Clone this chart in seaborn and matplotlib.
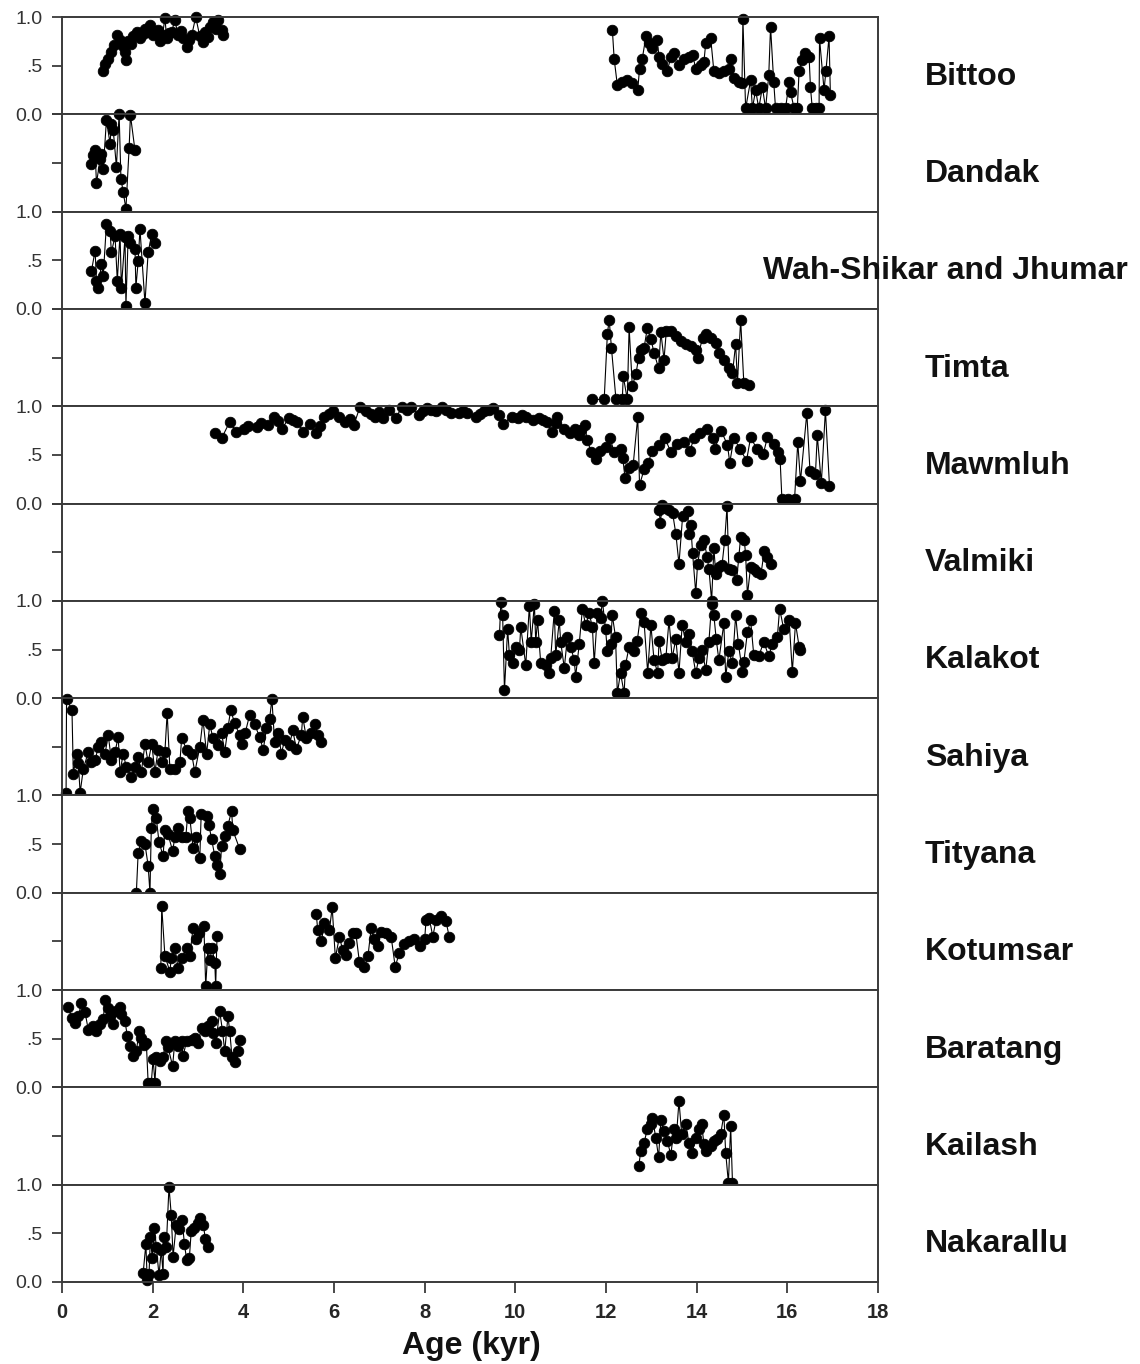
import matplotlib
matplotlib.use("Agg")
import matplotlib.pyplot as plt
import pandas as pd
import seaborn as sns

# (age in kyr, normalised proxy value) per cave record
bittoo = [(0.90, .44), (0.95, .52), (1.02, .57), (1.09, .64), (1.15, .71), (1.22, .82), (1.28, .76),
          (1.34, .70), (1.39, .64), (1.41, .56), (1.46, .75), (1.52, .72), (1.57, .80), (1.65, .85),
          (1.72, .78), (1.78, .83), (1.83, .88), (1.90, .85), (1.94, .92), (2.01, .81), (2.06, .84),
          (2.12, .87), (2.16, .75), (2.22, .82), (2.27, .99), (2.31, .78), (2.37, .84), (2.42, .85),
          (2.49, .97), (2.56, .81), (2.62, .86), (2.67, .78), (2.75, .69), (2.80, .76), (2.86, .81),
          (2.95, 1.00), (3.04, .80), (3.10, .74), (3.15, .85), (3.21, .79), (3.26, .90), (3.33, .95),
          (3.40, .88), (3.44, .97), (3.52, .87), (3.55, .81),
          (12.14, .87), (12.18, .57), (12.25, .30), (12.36, .33), (12.47, .35), (12.58, .32), (12.70, .25),
          (12.74, .47), (12.80, .57), (12.88, .80), (12.95, .73), (13.02, .68), (13.13, .76), (13.17, .59),
          (13.24, .52), (13.35, .44), (13.43, .59), (13.50, .63), (13.61, .51), (13.72, .57), (13.83, .59),
          (13.91, .61), (13.98, .47), (14.09, .51), (14.16, .54), (14.20, .73), (14.31, .78), (14.38, .44),
          (14.49, .42), (14.60, .44), (14.71, .47), (14.75, .57), (14.82, .37), (14.93, .33), (15.00, .32),
          (15.02, .98), (15.08, .06), (15.19, .35), (15.23, .06), (15.30, .25), (15.37, .06), (15.45, .28),
          (15.52, .06), (15.59, .40), (15.63, .90), (15.70, .33), (15.74, .06), (15.85, .06), (15.96, .06),
          (16.04, .33), (16.07, .23), (16.15, .06), (16.22, .06), (16.26, .45), (16.33, .56), (16.40, .63),
          (16.48, .59), (16.51, .28), (16.55, .06), (16.64, .06), (16.70, .06), (16.71, .78), (16.81, .25),
          (16.85, .44), (16.92, .80), (16.95, .20)]

dandak = [(0.65, .51), (0.69, .42), (0.73, .37), (0.76, .71), (0.84, .46), (0.87, .41), (0.91, .56),
          (0.98, .06), (1.06, .30), (1.09, .10), (1.13, .16), (1.20, .54), (1.26, .00), (1.30, .66),
          (1.35, .80), (1.41, .97), (1.48, .35), (1.51, .01), (1.61, .37)]

wah_shikar = [(0.65, .39), (0.73, .60), (0.76, .29), (0.80, .22), (0.87, .46), (0.91, .34), (0.98, .87),
              (1.06, .80), (1.09, .58), (1.17, .75), (1.22, .29), (1.28, .77), (1.31, .22), (1.39, .74),
              (1.41, .03), (1.46, .75), (1.51, .68), (1.61, .62), (1.63, .22), (1.68, .49), (1.72, .82),
              (1.83, .06), (1.90, .58), (1.98, .77), (2.05, .68)]

timta = [(11.70, .93), (11.96, .93), (12.03, .26), (12.07, .11), (12.12, .40), (12.22, .93), (12.36, .93),
         (12.38, .69), (12.47, .93), (12.51, .19), (12.58, .79), (12.66, .67), (12.72, .50), (12.77, .42),
         (12.84, .40), (12.91, .20), (12.99, .31), (13.06, .45), (13.16, .61), (13.21, .24), (13.28, .52),
         (13.33, .23), (13.43, .23), (13.54, .28), (13.65, .33), (13.76, .36), (13.87, .38), (13.98, .42),
         (14.02, .50), (14.13, .30), (14.20, .26), (14.31, .30), (14.42, .35), (14.49, .45), (14.60, .52),
         (14.71, .61), (14.79, .66), (14.86, .36), (14.90, .76), (14.97, .11), (15.04, .76), (15.15, .78)]

mawmluh = [(3.38, .72), (3.52, .67), (3.70, .84), (3.84, .74), (4.02, .77), (4.11, .80), (4.30, .79),
           (4.39, .83), (4.54, .81), (4.67, .89), (4.77, .85), (4.86, .77), (5.00, .88), (5.09, .86),
           (5.18, .84), (5.32, .74), (5.46, .82), (5.60, .72), (5.69, .80), (5.79, .89), (5.88, .92),
           (5.97, .95), (6.11, .89), (6.25, .84), (6.35, .87), (6.44, .81), (6.57, .99), (6.71, .95),
           (6.81, .92), (6.90, .89), (6.99, .94), (7.09, .88), (7.22, .96), (7.36, .88), (7.50, .99),
           (7.60, .96), (7.69, .99), (7.87, .91), (7.97, .95), (8.06, .98), (8.15, .96), (8.24, .95),
           (8.38, .99), (8.48, .96), (8.57, .93), (8.76, .93), (8.85, .95), (8.94, .93), (9.13, .89),
           (9.22, .92), (9.31, .95), (9.41, .96), (9.50, .98), (9.64, .91), (9.73, .82), (9.92, .89),
           (10.05, .88), (10.15, .91), (10.24, .89), (10.38, .86), (10.52, .88), (10.61, .86), (10.70, .84),
           (10.80, .74), (10.89, .83), (10.93, .89), (11.07, .77), (11.21, .72), (11.31, .77), (11.40, .70),
           (11.45, .76), (11.54, .81), (11.58, .65), (11.68, .53), (11.77, .46), (11.86, .54),
           (12.00, .58), (12.09, .67), (12.18, .53), (12.32, .56), (12.37, .47), (12.42, .26), (12.51, .37),
           (12.60, .40), (12.70, .89), (12.74, .19), (12.84, .35), (12.93, .42), (13.02, .54), (13.16, .60),
           (13.30, .67), (13.43, .53), (13.57, .61), (13.71, .63), (13.85, .54), (13.94, .67), (14.08, .72),
           (14.22, .77), (14.36, .67), (14.40, .56), (14.54, .75), (14.68, .60), (14.73, .42), (14.82, .67),
           (14.96, .56), (15.10, .44), (15.19, .68), (15.33, .56), (15.47, .51), (15.56, .68), (15.70, .61),
           (15.79, .53), (15.84, .46), (15.88, .05), (16.02, .05), (16.16, .05), (16.23, .63), (16.29, .23),
           (16.43, .93), (16.50, .33), (16.62, .30), (16.66, .70), (16.75, .21), (16.84, .96), (16.93, .18)]

valmiki = [(13.17, .07), (13.20, .20), (13.24, .01), (13.31, .05), (13.39, .07), (13.47, .10), (13.54, .31),
           (13.61, .62), (13.69, .13), (13.80, .08), (13.83, .31), (13.87, .22), (13.91, .51), (13.98, .92),
           (14.02, .62), (14.09, .43), (14.16, .37), (14.23, .55), (14.27, .67), (14.33, 1.00), (14.38, .46),
           (14.42, .72), (14.49, .65), (14.56, .63), (14.62, .37), (14.67, .03), (14.71, .67), (14.79, .68),
           (14.88, .79), (14.93, .55), (14.97, .34), (15.05, .37), (15.08, .53), (15.12, .94), (15.19, .65),
           (15.27, .67), (15.34, .70), (15.42, .72), (15.49, .49), (15.56, .55), (15.63, .62)]

kalakot = [(9.65, .65), (9.68, .99), (9.72, .85), (9.76, .08), (9.83, .71), (9.87, .44), (9.94, .36),
           (10.02, .53), (10.09, .49), (10.12, .73), (10.23, .34), (10.31, .95), (10.35, .58), (10.42, .97),
           (10.45, .58), (10.49, .80), (10.56, .36), (10.67, .34), (10.75, .26), (10.78, .41), (10.86, .90),
           (10.89, .44), (10.97, .80), (11.00, .58), (11.08, .31), (11.15, .63), (11.22, .53), (11.30, .39),
           (11.33, .22), (11.41, .56), (11.48, .92), (11.55, .75), (11.63, .87), (11.70, .73), (11.74, .36),
           (11.81, .87), (11.88, .82), (11.92, 1.00), (11.99, .71), (12.03, .48), (12.10, .56), (12.14, .85),
           (12.21, .63), (12.25, .05), (12.32, .26), (12.40, .05), (12.43, .34), (12.51, .53), (12.62, .48),
           (12.69, .59), (12.77, .88), (12.84, .78), (12.92, .26), (12.99, .75), (13.06, .39), (13.14, .26),
           (13.17, .59), (13.24, .39), (13.32, .41), (13.39, .80), (13.46, .41), (13.54, .61), (13.61, .26),
           (13.68, .75), (13.76, .58), (13.83, .66), (13.90, .48), (13.98, .26), (14.05, .41), (14.12, .49),
           (14.20, .29), (14.27, .58), (14.33, .97), (14.38, .85), (14.43, .61), (14.49, .39), (14.60, .77),
           (14.64, .22), (14.71, .48), (14.79, .36), (14.86, .85), (14.92, .56), (15.01, .27), (15.04, .37),
           (15.12, .68), (15.19, .80), (15.26, .44), (15.37, .43), (15.48, .58), (15.59, .43), (15.67, .56),
           (15.78, .63), (15.83, .92), (15.92, .71), (16.04, .80), (16.11, .27), (16.18, .77), (16.26, .53),
           (16.29, .49)]

sahiya = [(0.09, .97), (0.10, .01), (0.22, .12), (0.25, .78), (0.32, .57), (0.36, .67), (0.40, .97),
          (0.47, .73), (0.58, .55), (0.65, .66), (0.73, .64), (0.80, .50), (0.87, .45), (0.95, .57),
          (1.02, .38), (1.09, .64), (1.17, .55), (1.24, .40), (1.28, .76), (1.35, .57), (1.42, .71),
          (1.53, .81), (1.61, .71), (1.68, .60), (1.75, .76), (1.83, .47), (1.90, .66), (1.98, .47),
          (2.05, .76), (2.12, .53), (2.20, .66), (2.27, .55), (2.32, .15), (2.38, .73), (2.49, .73),
          (2.60, .66), (2.64, .41), (2.75, .53), (2.86, .57), (2.93, .76), (3.04, .50), (3.11, .22),
          (3.19, .57), (3.26, .27), (3.33, .41), (3.44, .48), (3.52, .36), (3.59, .55), (3.66, .31),
          (3.72, .12), (3.81, .26), (3.92, .38), (3.96, .47), (4.04, .36), (4.14, .17), (4.25, .27),
          (4.36, .40), (4.44, .53), (4.51, .31), (4.58, .21), (4.63, .01), (4.69, .45), (4.77, .36),
          (4.84, .57), (4.91, .43), (5.02, .48), (5.09, .33), (5.17, .52), (5.28, .38), (5.31, .19),
          (5.39, .41), (5.50, .36), (5.57, .27), (5.65, .38), (5.72, .45)]

tityana = [(1.64, .00), (1.68, .41), (1.75, .53), (1.83, .50), (1.90, .28), (1.94, .00), (1.97, .67),
           (2.01, .86), (2.08, .77), (2.14, .52), (2.23, .38), (2.27, .65), (2.34, .60), (2.44, .43),
           (2.49, .57), (2.56, .67), (2.64, .57), (2.73, .57), (2.78, .84), (2.82, .77), (2.89, .46),
           (2.96, .57), (3.04, .36), (3.07, .81), (3.19, .79), (3.24, .70), (3.30, .55), (3.37, .38),
           (3.42, .29), (3.48, .19), (3.52, .48), (3.59, .58), (3.66, .69), (3.74, .84), (3.77, .64),
           (3.92, .45)]

kotumsar = [(2.18, .77), (2.20, .14), (2.27, .65), (2.38, .81), (2.41, .67), (2.49, .57), (2.56, .77),
            (2.64, .67), (2.75, .57), (2.82, .65), (2.89, .36), (2.95, .48), (3.02, .41), (3.13, .34),
            (3.17, .96), (3.22, .57), (3.26, .69), (3.31, .57), (3.37, .72), (3.39, .96), (3.42, .44),
            (5.61, .22), (5.64, .38), (5.72, .50), (5.79, .31), (5.90, .38), (5.96, .15), (6.03, .67),
            (6.12, .45), (6.19, .59), (6.26, .64), (6.34, .52), (6.41, .41), (6.48, .41), (6.56, .71),
            (6.67, .76), (6.75, .65), (6.82, .36), (6.89, .48), (6.97, .55), (7.04, .40), (7.15, .41),
            (7.26, .45), (7.35, .76), (7.44, .62), (7.55, .53), (7.66, .50), (7.77, .48), (7.89, .55),
            (8.00, .48), (8.03, .28), (8.10, .26), (8.18, .45), (8.25, .28), (8.36, .24), (8.47, .29),
            (8.54, .45)]

baratang = [(0.14, .83), (0.21, .71), (0.29, .66), (0.36, .73), (0.43, .87), (0.51, .77), (0.58, .59),
            (0.69, .63), (0.76, .58), (0.84, .65), (0.91, .70), (0.95, .90), (1.02, .82), (1.06, .73),
            (1.13, .65), (1.20, .78), (1.28, .83), (1.31, .75), (1.39, .68), (1.44, .53), (1.50, .43),
            (1.57, .32), (1.64, .37), (1.70, .58), (1.75, .51), (1.81, .44), (1.86, .46), (1.90, .05),
            (1.97, .05), (2.01, .29), (2.05, .05), (2.08, .31), (2.16, .27), (2.23, .31), (2.29, .48),
            (2.34, .41), (2.44, .22), (2.49, .48), (2.56, .43), (2.64, .48), (2.67, .32), (2.75, .48),
            (2.86, .49), (2.93, .51), (3.00, .46), (3.08, .61), (3.15, .58), (3.22, .63), (3.30, .68),
            (3.33, .56), (3.39, .46), (3.48, .78), (3.54, .58), (3.59, .37), (3.66, .73), (3.70, .58),
            (3.75, .31), (3.81, .26), (3.88, .37), (3.93, .49)]

kailash = [(12.72, .81), (12.77, .65), (12.84, .57), (12.91, .43), (12.99, .38), (13.02, .31), (13.10, .52),
           (13.16, .72), (13.21, .34), (13.28, .45), (13.35, .55), (13.43, .69), (13.50, .43), (13.55, .52),
           (13.61, .14), (13.67, .48), (13.76, .38), (13.83, .57), (13.90, .67), (13.98, .52), (14.05, .43),
           (14.11, .38), (14.16, .58), (14.21, .65), (14.31, .60), (14.38, .55), (14.45, .53), (14.53, .48),
           (14.60, .28), (14.64, .67), (14.70, .98), (14.75, .40), (14.79, .98)]

nakarallu = [(1.79, .09), (1.85, .39), (1.88, .02), (1.92, .08), (1.95, .46), (1.99, .25), (2.04, .56),
             (2.08, .36), (2.14, .07), (2.19, .33), (2.23, .08), (2.24, .46), (2.30, .36), (2.36, .98),
             (2.41, .69), (2.45, .26), (2.52, .59), (2.58, .54), (2.65, .64), (2.70, .39), (2.75, .23),
             (2.81, .25), (2.85, .52), (2.92, .56), (2.99, .61), (3.05, .66), (3.12, .59), (3.16, .44),
             (3.22, .36)]

site_names = ["Bittoo", "Dandak", "Wah-Shikar and Jhumar", "Timta", "Mawmluh", "Valmiki", "Kalakot",
              "Sahiya", "Tityana", "Kotumsar", "Baratang", "Kailash", "Nakarallu"]
site_records = [bittoo, dandak, wah_shikar, timta, mawmluh, valmiki, kalakot,
                sahiya, tityana, kotumsar, baratang, kailash, nakarallu]
age_ticks = list(range(0, 19, 2))
value_ticks = [0.0, 0.5, 1.0]
value_tick_labels = ["0.0", ".5", "1.0"]

W, H = 1140, 1364
sns.set_theme(style="ticks")
plt.rcParams["font.family"] = ["Liberation Sans", "DejaVu Sans"]

fig, axes = plt.subplots(len(site_names), 1, figsize=(W / 100, H / 100), dpi=100, sharex=True)
fig.subplots_adjust(left=62 / W, right=878 / W, top=1 - 17 / H, bottom=1 - 1282 / H, hspace=0)

label_x = {"Wah-Shikar and Jhumar": 763 / W}
frame_col = "#3a3a3a"

for i, (ax, name, rec) in enumerate(zip(axes, site_names, site_records)):
    df = pd.DataFrame(rec, columns=["age", "value"])
    # separate line segments wherever the record has a long hiatus
    df["segment"] = (df["age"].diff() > 1.5).cumsum()
    sns.lineplot(data=df, x="age", y="value", units="segment", estimator=None, ax=ax,
                 color="black", lw=0.8, marker="o", markersize=7.6, markeredgecolor="black",
                 markeredgewidth=0.6, clip_on=False, legend=False)
    ax.set_xlim(0, 18)
    flipped = i % 2 == 1
    ax.set_ylim((1, 0) if flipped else (0, 1))
    ax.set_yticks(value_ticks)
    ax.set_yticklabels([] if flipped else value_tick_labels)
    ax.set_xlabel("")
    ax.set_ylabel("")
    for sp in ax.spines.values():
        sp.set_color(frame_col)
        sp.set_linewidth(1.4)
    ax.tick_params(axis="y", direction="out", length=7, width=1.3, color=frame_col,
                   labelsize=14, labelcolor="#333333", pad=7)
    last = i == len(site_names) - 1
    ax.tick_params(axis="x", bottom=last, labelbottom=last, direction="out", length=8,
                   width=1.3, color=frame_col, labelsize=14.5, pad=7)

    pos = ax.get_position()
    fig.text(label_x.get(name, 925 / W), pos.y0 + pos.height / 2 - 11 / H, name,
             ha="left", va="center", fontsize=23, fontweight="bold", color="#111111")

axes[-1].set_xticks(age_ticks)
axes[-1].set_xticklabels([str(t) for t in age_ticks], fontweight="bold")
fig.text(471 / W, 1 - 1346 / H, "Age (kyr)", ha="center", va="center",
         fontsize=23, fontweight="bold", color="#111111")

fig.savefig("out.png", dpi=100)
